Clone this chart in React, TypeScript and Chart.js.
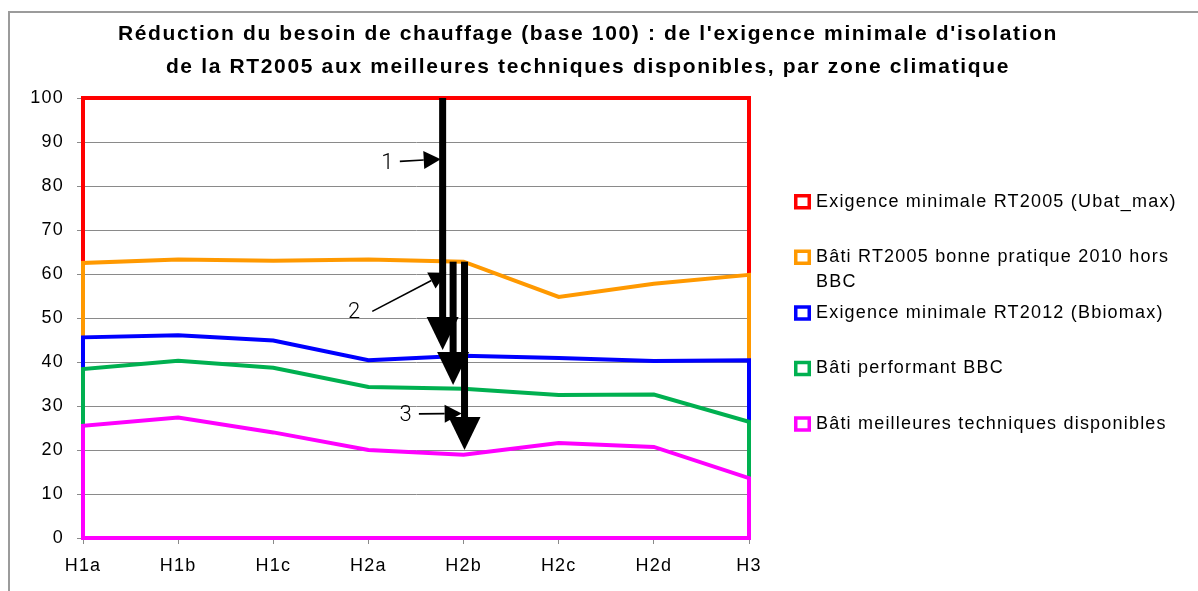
import React, { useEffect, useRef } from 'react';
import { Chart, registerables } from 'chart.js';

Chart.register(...registerables);

// ---------- data ----------
const CATEGORIES = ['H1a', 'H1b', 'H1c', 'H2a', 'H2b', 'H2c', 'H2d', 'H3'];

const RT2005_MIN = [100, 100, 100, 100, 100, 100, 100, 100];
const RT2005_GOOD = [62.5, 63.3, 63.0, 63.3, 62.8, 54.8, 57.8, 59.8];
const RT2012_MIN = [45.6, 46.1, 44.9, 40.4, 41.4, 40.9, 40.2, 40.4];
const BBC = [38.4, 40.3, 38.7, 34.3, 33.9, 32.5, 32.6, 26.4];
const BEST = [25.5, 27.4, 24.0, 20.0, 18.9, 21.6, 20.7, 13.6];

const SERIES_VALUES = [RT2005_MIN, RT2005_GOOD, RT2012_MIN, BBC, BEST];

const SERIES_LABEL_LINES = [
  ['Exigence minimale RT2005 (Ubat_max)'],
  ['Bâti RT2005 bonne pratique 2010 hors', 'BBC'],
  ['Exigence minimale RT2012 (Bbiomax)'],
  ['Bâti performant BBC'],
  ['Bâti meilleures techniques disponibles'],
];

const SERIES_COLORS = ['#ff0000', '#ff9900', '#0000ff', '#00b050', '#ff00ff'];

const TITLE_LINES = [
  "Réduction du besoin de chauffage (base 100) : de l'exigence minimale d'isolation",
  'de la RT2005 aux meilleures techniques disponibles, par zone climatique',
];

// annotation arrows, in data units (x = category index, y = value)
const DROP_X = [3.78, 3.89, 4.01];
const DROP_FROM = [100, 62.8, 62.8];
const DROP_TO = [42.7, 34.8, 20.0];

const CALLOUT_TEXT = ['1', '2', '3'];
const CALLOUT_TEXT_X = [3.2, 2.85, 3.39];
const CALLOUT_TEXT_Y = [85.2, 51.3, 27.9];
const CALLOUT_FROM_X = [3.33, 3.04, 3.53];
const CALLOUT_FROM_Y = [85.6, 51.5, 28.2];
const CALLOUT_TO_X = [3.76, 3.82, 3.98];
const CALLOUT_TO_Y = [86.1, 60.3, 28.3];

// ---------- style ----------
const FAMILY = "'Liberation Sans', Arial, Helvetica, sans-serif";
const GRID = '#8a8a8a';

function outline(vals: number[]) {
  const last = vals.length - 1;
  return [
    { x: 0, y: 0 },
    ...vals.map((v, i) => ({ x: i, y: v })),
    { x: last, y: 0 },
    { x: 0, y: 0 },
  ];
}

const decorPlugin = {
  id: 'decor',
  beforeDraw(chart: any) {
    (chart.ctx as any).letterSpacing = '1.2px';
  },
  afterDatasetsDraw(chart: any) {
    const { ctx, scales } = chart;
    const xs = scales.x;
    const ys = scales.y;
    ctx.save();
    ctx.fillStyle = '#000';
    ctx.strokeStyle = '#000';
    // big drop arrows
    DROP_X.forEach((xv, i) => {
      const xp = xs.getPixelForValue(xv);
      const y1 = ys.getPixelForValue(DROP_FROM[i]);
      const y2 = ys.getPixelForValue(DROP_TO[i]);
      const headLen = 33;
      const headHalf = 16;
      ctx.fillRect(xp - 3.5, y1, 7, y2 - headLen - y1 + 1);
      ctx.beginPath();
      ctx.moveTo(xp - headHalf, y2 - headLen);
      ctx.lineTo(xp + headHalf, y2 - headLen);
      ctx.lineTo(xp, y2);
      ctx.closePath();
      ctx.fill();
    });
    // callouts
    CALLOUT_TEXT.forEach((t, i) => {
      const x0 = xs.getPixelForValue(CALLOUT_FROM_X[i]);
      const y0 = ys.getPixelForValue(CALLOUT_FROM_Y[i]);
      const x1 = xs.getPixelForValue(CALLOUT_TO_X[i]);
      const y1 = ys.getPixelForValue(CALLOUT_TO_Y[i]);
      const dx = x1 - x0;
      const dy = y1 - y0;
      const len = Math.hypot(dx, dy);
      const ux = dx / len;
      const uy = dy / len;
      const hl = 17;
      const hw = 9;
      const bx = x1 - ux * hl;
      const by = y1 - uy * hl;
      ctx.lineWidth = 1.6;
      ctx.beginPath();
      ctx.moveTo(x0, y0);
      ctx.lineTo(bx, by);
      ctx.stroke();
      ctx.beginPath();
      ctx.moveTo(x1, y1);
      ctx.lineTo(bx - uy * hw, by + ux * hw);
      ctx.lineTo(bx + uy * hw, by - ux * hw);
      ctx.closePath();
      ctx.fill();
      ctx.font = "300 22px Roboto, 'Liberation Sans', sans-serif";
      (ctx as any).letterSpacing = '0px';
      ctx.textAlign = 'center';
      ctx.textBaseline = 'middle';
      ctx.fillText(t, xs.getPixelForValue(CALLOUT_TEXT_X[i]), ys.getPixelForValue(CALLOUT_TEXT_Y[i]));
    });
    ctx.restore();
  },
  afterDraw(chart: any) {
    const { ctx, chartArea } = chart;
    ctx.save();
    // title
    ctx.fillStyle = '#000';
    ctx.font = `bold 21px ${FAMILY}`;
    (ctx as any).letterSpacing = '1.65px';
    ctx.textAlign = 'center';
    ctx.textBaseline = 'middle';
    const cx = 578;
    TITLE_LINES.forEach((line, i) => {
      ctx.fillText(line, cx, 21.5 + i * 33);
    });
    // legend
    const lx = chartArea.right + 45;
    const top = 188.7;
    const step = 55.6;
    ctx.font = `18px ${FAMILY}`;
    (ctx as any).letterSpacing = '1.2px';
    ctx.textAlign = 'left';
    SERIES_LABEL_LINES.forEach((lines, i) => {
      const y = top + i * step;
      ctx.strokeStyle = SERIES_COLORS[i];
      ctx.lineWidth = 3.5;
      ctx.fillStyle = '#fff';
      ctx.beginPath();
      ctx.rect(lx + 1.75, y - 6, 13.5, 12);
      ctx.fill();
      ctx.stroke();
      ctx.fillStyle = '#000';
      lines.forEach((ln, j) => {
        ctx.fillText(ln, lx + 22, y + j * 25);
      });
    });
    ctx.restore();
  },
};

export default function App() {
  const ref = useRef<HTMLCanvasElement | null>(null);

  useEffect(() => {
    if (!ref.current) return;
    const chart = new Chart(ref.current, {
      type: 'line',
      data: {
        datasets: SERIES_VALUES.map((vals, i) => ({
          label: SERIES_LABEL_LINES[i].join(' '),
          data: outline(vals),
          borderColor: SERIES_COLORS[i],
          backgroundColor: '#ffffff',
          borderWidth: 4,
          pointRadius: 0,
          pointHoverRadius: 0,
          fill: false,
          tension: 0,
          borderJoinStyle: 'miter',
          borderCapStyle: 'square',
          clip: 10,
          order: SERIES_VALUES.length - i,
        })),
      },
      options: {
        responsive: false,
        animation: false,
        devicePixelRatio: 1,
        layout: {
          autoPadding: false,
          padding: { left: 0, top: 85, right: 449, bottom: 0 },
        },
        plugins: {
          legend: { display: false },
          title: { display: false },
          tooltip: { enabled: false },
        },
        scales: {
          x: {
            type: 'linear',
            min: 0,
            max: CATEGORIES.length - 1,
            afterFit: (s: any) => {
              s.height = 53;
            },
            ticks: {
              stepSize: 1,
              autoSkip: false,
              maxRotation: 0,
              color: '#000',
              padding: 11,
              font: { family: FAMILY, size: 18 },
              callback: (v: any) => CATEGORIES[v] ?? '',
            },
            grid: {
              drawOnChartArea: false,
              drawTicks: true,
              tickLength: 6,
              color: GRID,
            },
            border: { color: GRID, width: 1 },
          },
          y: {
            min: 0,
            max: 100,
            afterFit: (s: any) => {
              s.width = 73;
            },
            ticks: {
              stepSize: 10,
              color: '#000',
              padding: 13,
              font: { family: FAMILY, size: 18 },
            },
            grid: {
              color: GRID,
              tickLength: 6,
              lineWidth: 1,
            },
            border: { color: GRID, width: 1 },
          },
        },
      },
      plugins: [decorPlugin],
    } as any);
    return () => chart.destroy();
  }, []);

  return (
    <div
      style={{
        position: 'fixed',
        left: 8,
        top: 11,
        width: 1190,
        height: 580,
        boxSizing: 'border-box',
        borderTop: '2px solid #9b9b9b',
        borderLeft: '2px solid #9b9b9b',
        background: '#fff',
      }}
    >
      <canvas ref={ref} width={1188} height={578} style={{ display: 'block' }} />
    </div>
  );
}
